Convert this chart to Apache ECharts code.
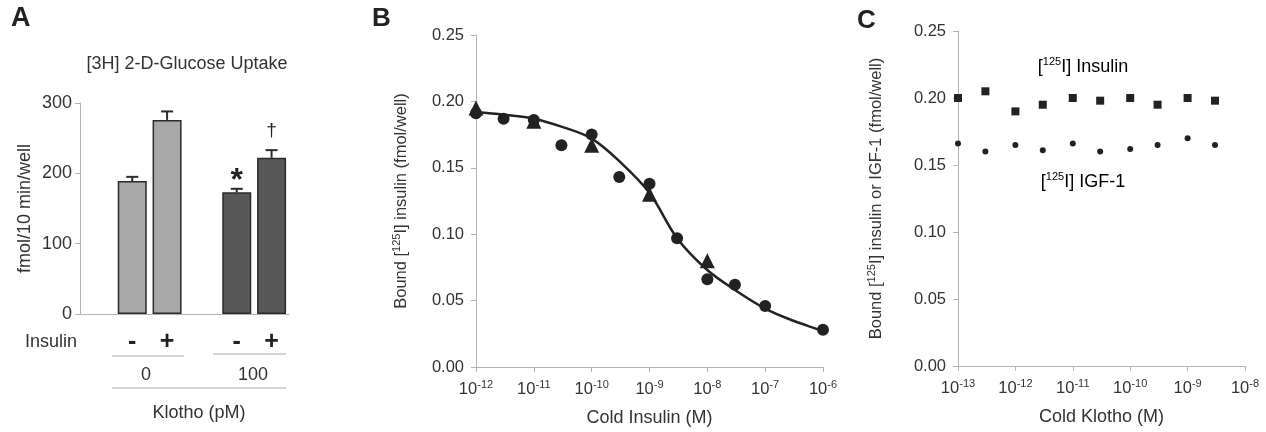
<!DOCTYPE html>
<html lang="en">
<head>
  <meta charset="UTF-8">
  <title>Klotho insulin figure</title>
  <style>
    html, body { margin: 0; padding: 0; background: #fff; }
    #main { width: 1266px; height: 432px; }
  </style>
  <script src="https://cdn.jsdelivr.net/npm/echarts@6/dist/echarts.min.js"></script>
</head>
<body>
<div id="main"></div>
<script>
  // ---- panel A: glucose uptake ----
  var aCats = ['', '-', '+', '', '-', '+'];
  var aValues = [null, 189, 276, null, 173, 222];
  var aErrTop = [null, 195, 288, null, 178, 233];
  var aMarks = ['', '', '', '', '*', '\u2020'];

  // ---- panel B: cold insulin competition ----
  var bCircleConc = [1e-12, 3e-12, 1e-11, 3e-11, 1e-10, 3e-10, 1e-9, 3e-9, 1e-8, 3e-8, 1e-7, 1e-6];
  var bCircleBound = [0.191, 0.187, 0.186, 0.167, 0.175, 0.143, 0.138, 0.097, 0.066, 0.062, 0.046, 0.028];
  var bTriConc = [1e-12, 1e-11, 1e-10, 1e-9, 1e-8];
  var bTriBound = [0.195, 0.185, 0.167, 0.130, 0.080];
  var bFitConc = [1e-12, 3e-12, 1e-11, 3e-11, 1e-10, 3e-10, 1e-9, 3e-9, 1e-8, 3e-8, 1e-7, 3e-7, 1e-6, 1.15e-6];
  var bFitBound = [0.192, 0.190, 0.187, 0.181, 0.172, 0.155, 0.131, 0.097, 0.073, 0.058, 0.044, 0.035, 0.027, 0.0255];

  // ---- panel C: cold klotho ----
  var cConc = [1e-13, 3e-13, 1e-12, 3e-12, 1e-11, 3e-11, 1e-10, 3e-10, 1e-9, 3e-9];
  var cInsulin = [0.200, 0.205, 0.190, 0.195, 0.200, 0.198, 0.200, 0.195, 0.200, 0.198];
  var cIgf = [0.166, 0.160, 0.165, 0.161, 0.166, 0.160, 0.162, 0.165, 0.170, 0.165];

  var FONT = '"Liberation Sans", Arial, sans-serif';
  var AXIS_GRAY = '#b3b3b3';
  var TEXT = '#333';
  var INK = '#222';

  function pairs(xs, ys) {
    return xs.map(function (x, i) { return [Math.log10(x), ys[i]]; });
  }

  var supRich = {
    b: { fontFamily: FONT, fontSize: 18, color: TEXT, lineHeight: 22 },
    s: { fontFamily: FONT, fontSize: 11, color: TEXT, lineHeight: 12, verticalAlign: 'top' }
  };
  var tickRich = {
    b: { fontFamily: FONT, fontSize: 16.5, color: TEXT, lineHeight: 20 },
    s: { fontFamily: FONT, fontSize: 11, color: TEXT, lineHeight: 11, verticalAlign: 'top' }
  };
  var nameRich = {
    b: { fontFamily: FONT, fontSize: 16.5, color: TEXT, lineHeight: 20 },
    s: { fontFamily: FONT, fontSize: 11, color: TEXT, lineHeight: 12, verticalAlign: 'top' }
  };

  function logAxis(gridIndex, min, max, name) {
    return {
      type: 'value', gridIndex: gridIndex, min: min, max: max, interval: 1,
      axisLine: { lineStyle: { color: AXIS_GRAY } },
      axisTick: { length: 5, lineStyle: { color: AXIS_GRAY } },
      splitLine: { show: false },
      axisLabel: {
        margin: 12,
        formatter: function (v) { return '{b|10}{s|' + v + '}'; },
        rich: tickRich
      },
      name: name, nameLocation: 'middle', nameGap: 42,
      nameTextStyle: { fontFamily: FONT, fontSize: 18, color: TEXT }
    };
  }

  function boundAxis(gridIndex, nameGap, name) {
    return {
      type: 'value', gridIndex: gridIndex, min: 0, max: 0.25, interval: 0.05,
      axisLine: { show: true, lineStyle: { color: AXIS_GRAY } },
      axisTick: { show: true, length: 5, lineStyle: { color: AXIS_GRAY } },
      splitLine: { show: false },
      axisLabel: {
        margin: 12, fontFamily: FONT, fontSize: 16.5, color: TEXT,
        formatter: function (v) { return v.toFixed(2); }
      },
      name: name, nameLocation: 'middle', nameRotate: 90, nameGap: nameGap,
      nameTextStyle: { rich: nameRich }
    };
  }

  var chart = echarts.init(document.getElementById('main'));

  var option = {
    backgroundColor: '#fff',
    animation: false,
    grid: [
      { left: 80, top: 103, width: 209, height: 211 },
      { left: 476, top: 35, width: 347, height: 334 },
      { left: 958, top: 31, width: 287, height: 335 }
    ],
    xAxis: [
      {
        type: 'category', gridIndex: 0, data: aCats,
        axisLine: { lineStyle: { color: AXIS_GRAY } },
        axisTick: { show: false },
        axisLabel: { margin: 16, fontFamily: FONT, fontSize: 25, fontWeight: 'bold', color: INK, interval: 0 }
      },
      logAxis(1, -12, -6, 'Cold Insulin (M)'),
      logAxis(2, -13, -8, 'Cold Klotho (M)')
    ],
    yAxis: [
      {
        type: 'value', gridIndex: 0, min: 0, max: 300, interval: 100,
        axisLine: { show: true, lineStyle: { color: AXIS_GRAY } },
        axisTick: { show: true, length: 5, lineStyle: { color: AXIS_GRAY } },
        splitLine: { show: false },
        axisLabel: { margin: 8, fontFamily: FONT, fontSize: 18, color: TEXT },
        name: 'fmol/10 min/well', nameLocation: 'middle', nameRotate: 90, nameGap: 46,
        nameTextStyle: { fontFamily: FONT, fontSize: 18, color: TEXT }
      },
      boundAxis(1, 65, '{b|Bound [}{s|125}{b|I] insulin (fmol/well)}'),
      boundAxis(2, 72, '{b|Bound [}{s|125}{b|I] insulin or IGF-1 (fmol/well)}')
    ],
    series: [
      {
        type: 'bar', xAxisIndex: 0, yAxisIndex: 0,
        data: aValues, barWidth: 29,
        itemStyle: {
          borderColor: '#2b2b2b', borderWidth: 1.5,
          color: function (p) { return p.dataIndex < 3 ? '#a8a8a8' : '#585858'; }
        }
      },
      {
        type: 'custom', xAxisIndex: 0, yAxisIndex: 0, z: 5,
        data: aValues.map(function (v, i) { return v == null ? null : [i, v, aErrTop[i]]; })
          .filter(function (d) { return d; }),
        renderItem: function (params, api) {
          var idx = api.value(0);
          var top = api.coord([idx, api.value(2)]);
          var base = api.coord([idx, api.value(1)]);
          var mark = aMarks[idx];
          var children = [
            { type: 'line', shape: { x1: top[0], y1: top[1], x2: base[0], y2: base[1] },
              style: { stroke: '#2b2b2b', lineWidth: 2 } },
            { type: 'line', shape: { x1: top[0] - 6, y1: top[1], x2: top[0] + 6, y2: top[1] },
              style: { stroke: '#2b2b2b', lineWidth: 2 } }
          ];
          if (mark) {
            var star = mark === '*';
            children.push({
              type: 'text',
              style: {
                text: mark, x: top[0], y: top[1] - (star ? 8 : 19),
                align: 'center', verticalAlign: 'middle',
                font: (star ? 'bold 32px ' : '19px ') + FONT, fill: INK
              }
            });
          }
          return { type: 'group', children: children };
        }
      },
      {
        type: 'line', xAxisIndex: 1, yAxisIndex: 1,
        data: pairs(bFitConc, bFitBound), smooth: 0.35, showSymbol: false, clip: false,
        lineStyle: { color: INK, width: 2.5 }, z: 3
      },
      {
        type: 'scatter', xAxisIndex: 1, yAxisIndex: 1,
        data: pairs(bTriConc, bTriBound), symbol: 'triangle', symbolSize: 15,
        itemStyle: { color: INK, opacity: 1 }, z: 4
      },
      {
        type: 'scatter', xAxisIndex: 1, yAxisIndex: 1,
        data: pairs(bCircleConc, bCircleBound), symbol: 'circle', symbolSize: 12,
        itemStyle: { color: INK, opacity: 1 }, z: 4
      },
      {
        type: 'scatter', xAxisIndex: 2, yAxisIndex: 2,
        data: pairs(cConc, cInsulin), symbol: 'rect', symbolSize: 8,
        itemStyle: { color: INK, opacity: 1 }
      },
      {
        type: 'scatter', xAxisIndex: 2, yAxisIndex: 2,
        data: pairs(cConc, cIgf), symbol: 'circle', symbolSize: 6,
        itemStyle: { color: INK, opacity: 1 }
      }
    ],
    graphic: [
      // panel letters
      { type: 'text', left: 11, top: 5, style: { text: 'A', font: 'bold 27px ' + FONT, fill: INK } },
      { type: 'text', left: 372, top: 6, style: { text: 'B', font: 'bold 26px ' + FONT, fill: INK } },
      { type: 'text', left: 857, top: 8, style: { text: 'C', font: 'bold 26px ' + FONT, fill: INK } },
      // panel A annotations
      { type: 'text', x: 187, y: 64, style: { text: '[3H] 2-D-Glucose Uptake', font: '18px ' + FONT, fill: TEXT, align: 'center', verticalAlign: 'middle' } },
      { type: 'text', x: 25, y: 342, style: { text: 'Insulin', font: '18px ' + FONT, fill: TEXT, align: 'left', verticalAlign: 'middle' } },
      { type: 'line', shape: { x1: 112, y1: 356, x2: 184, y2: 356 }, style: { stroke: '#aaa', lineWidth: 1 } },
      { type: 'line', shape: { x1: 213, y1: 354, x2: 286, y2: 354 }, style: { stroke: '#aaa', lineWidth: 1 } },
      { type: 'text', x: 146, y: 375, style: { text: '0', font: '18px ' + FONT, fill: TEXT, align: 'center', verticalAlign: 'middle' } },
      { type: 'text', x: 253, y: 375, style: { text: '100', font: '18px ' + FONT, fill: TEXT, align: 'center', verticalAlign: 'middle' } },
      { type: 'line', shape: { x1: 112, y1: 388, x2: 286, y2: 388 }, style: { stroke: '#aaa', lineWidth: 1 } },
      { type: 'text', x: 199, y: 413, style: { text: 'Klotho (pM)', font: '18px ' + FONT, fill: TEXT, align: 'center', verticalAlign: 'middle' } },
      // panel C series labels
      { type: 'text', x: 1083, y: 67, style: { text: '{b|[}{s|125}{b|I] Insulin}', rich: supRich, align: 'center', verticalAlign: 'middle' } },
      { type: 'text', x: 1083, y: 182, style: { text: '{b|[}{s|125}{b|I] IGF-1}', rich: supRich, align: 'center', verticalAlign: 'middle' } }
    ]
  };

  chart.setOption(option);
</script>
</body>
</html>
